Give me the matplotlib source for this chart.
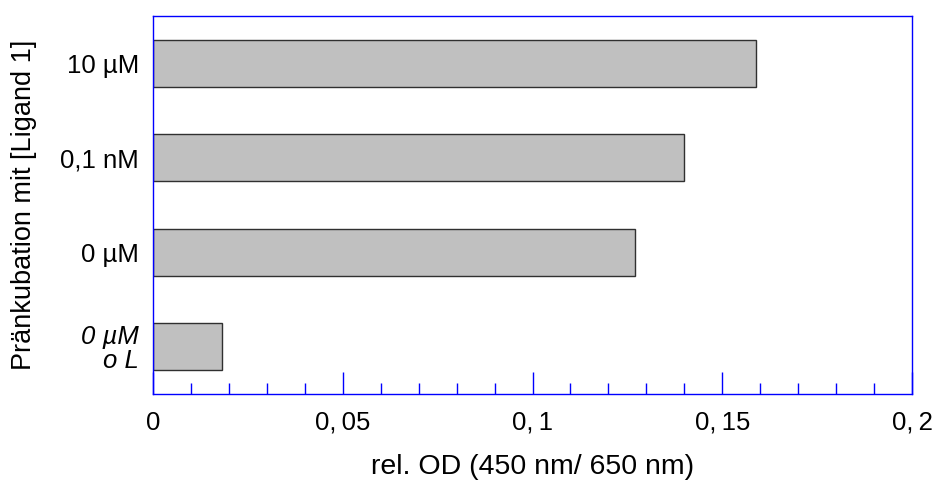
import numpy as np
import matplotlib.pyplot as plt

plt.rcParams['font.family'] = ['Liberation Sans', 'DejaVu Sans']

categories = ["0 µM\no L", "0 µM", "0,1 nM", "10 µM"]
values = [0.0182, 0.127, 0.140, 0.159]
xticks = [0, 0.05, 0.1, 0.15, 0.2]
xticklabels = ["0", "0,\u200905", "0,\u20091", "0,\u200915", "0,\u20092"]

fig = plt.figure(figsize=(9.35, 4.82), dpi=100)
ax = fig.add_axes([153 / 935, 1 - 394 / 482, (912 - 153) / 935, (394 - 16) / 482])

y = np.arange(len(categories))
ax.barh(y, values, height=0.5, color="#c0c0c0", edgecolor="#303030", linewidth=1)

ax.set_xlim(0, 0.2)
ax.set_ylim(-0.5, 3.5)

for s in ax.spines.values():
    s.set_color("#0000ff")
    s.set_linewidth(1)

ax.set_xticks(xticks)
ax.set_xticklabels(xticklabels, fontsize=18.5)
ax.set_xticks(np.arange(0, 0.2001, 0.01), minor=True)
ax.tick_params(axis="x", which="major", direction="in", length=16, color="#0000ff", width=1, pad=12)
ax.tick_params(axis="x", which="minor", direction="in", length=8, color="#0000ff", width=1)

ax.set_yticks(y)
labels = ax.set_yticklabels(categories, fontsize=18.5, linespacing=1.0)
labels[0].set_style("italic")
ax.tick_params(axis="y", length=0, pad=10)

ax.set_xlabel("rel. OD (450 nm/ 650 nm)", fontsize=20.5, labelpad=14)
ax.set_ylabel("Pränkubation mit [Ligand 1]", fontsize=19.5, labelpad=16.5)

fig.savefig("out.png", dpi=100)
